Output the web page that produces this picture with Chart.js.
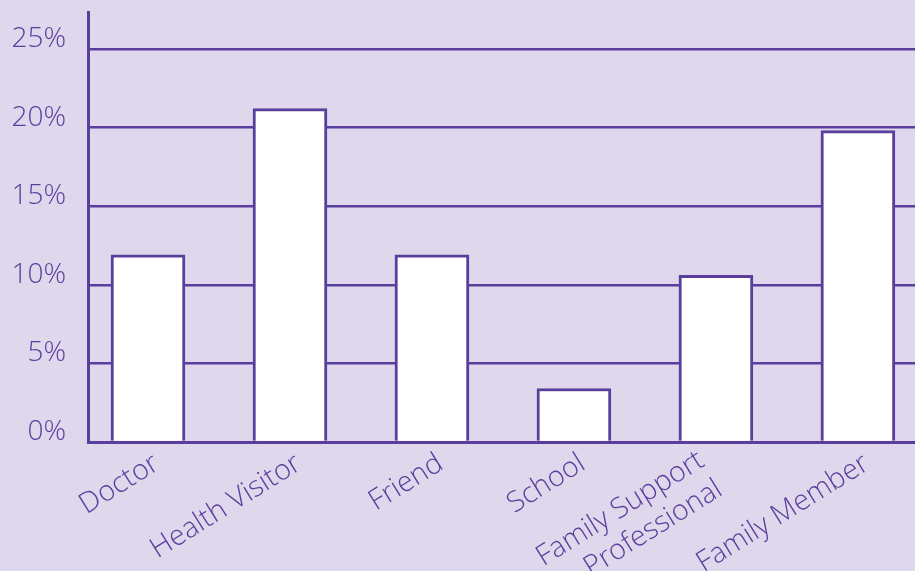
<!DOCTYPE html>
<html>
<head>
<meta charset="utf-8">
<script src="https://cdn.jsdelivr.net/npm/chart.js@4/dist/chart.umd.min.js"></script>
<style>
html,body{margin:0;padding:0;background:#dfd7ec;overflow:hidden;}
#wrap{width:915px;height:571px;position:relative;}
</style>
</head>
<body>
<div id="wrap"><canvas id="chart"></canvas></div>
<script>
// data
const categories=["Doctor","Health Visitor","Friend","School",["Family Support","Professional"],"Family Member"];
const values=[11.9,21.2,11.9,3.4,10.6,19.8];
const yTicks=[0,5,10,15,20,25];

const purple="#5a3e9e";
const labelFont="300 28.5px 'Open Sans'";

// slanted category labels, placed from the x scale
const xLabels={
id:"xLabels",
afterDraw(chart){
const s=chart.scales.x;
const c=chart.ctx;
c.save();
c.fillStyle=purple;
c.font=labelFont;
c.textAlign="right";
c.textBaseline="alphabetic";
categories.forEach((lab,i)=>{
const lines=Array.isArray(lab)?lab:[lab];
const multi=lines.length>1;
const x=s.getPixelForValue(i)+(multi?-10:13);
const y=s.top+(multi?23:26);
c.save();
c.translate(x,y);
c.rotate(-32*Math.PI/180);
lines.forEach((t,j)=>c.fillText(t,0,j*34));
c.restore();
});
c.restore();
}
};

const ctx=document.getElementById("chart").getContext("2d");

new Chart(ctx,{
type:"bar",
data:{
datasets:[{
data:values.map((v,i)=>({x:i,y:v})),
backgroundColor:"#ffffff",
borderColor:purple,
borderWidth:3,
barThickness:74
}]
},
options:{
responsive:true,
maintainAspectRatio:false,
devicePixelRatio:1,
animation:false,
layout:{padding:{top:12,right:0,left:0,bottom:0}},
plugins:{legend:{display:false},tooltip:{enabled:false}},
scales:{
x:{
type:"linear",
offset:false,
min:-0.4225,
max:5.402,
afterBuildTicks:s=>{s.ticks=categories.map((c,i)=>({value:i}));},
afterFit:s=>{s.height=129;s.paddingLeft=0;s.paddingRight=0;},
grid:{display:false},
border:{display:true,color:purple,width:3},
ticks:{display:false}
},
y:{
min:0,
max:27.35,
afterBuildTicks:s=>{s.ticks=yTicks.map(v=>({value:v}));},
afterFit:s=>{s.width=88;s.paddingTop=0;s.paddingBottom=0;},
grid:{color:purple,lineWidth:2.5,drawTicks:false},
border:{display:true,color:purple,width:3},
ticks:{
padding:22,
labelOffset:-10,
color:purple,
font:{family:"Open Sans",size:28,weight:300},
callback:v=>v+"%"
}
}
}
},
plugins:[xLabels]
});
</script>
</body>
</html>
